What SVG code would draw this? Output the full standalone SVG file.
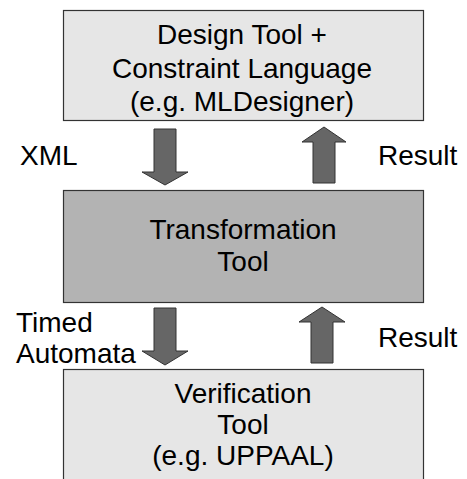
<svg xmlns="http://www.w3.org/2000/svg" width="467" height="479" viewBox="0 0 467 479">
<style>
.box{stroke:#333;stroke-width:1.2}
.light{fill:#e6e6e6}
.mid{fill:#b3b3b3}
.arr{fill:#666;stroke:#333;stroke-width:1}
text{font-family:"Liberation Sans",Arial,sans-serif;font-size:28px;fill:#000}
.c{text-anchor:middle}
</style>
<rect width="467" height="479" fill="#fff"/>
<g id="design-tool">
<rect class="box light" x="63.5" y="10.5" width="360" height="110"/>
<text class="c" x="242" y="44">Design Tool +</text>
<text class="c" x="242" y="78">Constraint Language</text>
<text class="c" x="242" y="111">(e.g. MLDesigner)</text>
</g>
<g id="transformation-tool">
<rect class="box mid" x="63.5" y="190.5" width="360" height="112"/>
<text class="c" x="243" y="239">Transformation</text>
<text class="c" x="243" y="271">Tool</text>
</g>
<g id="verification-tool">
<rect class="box light" x="63.5" y="369.5" width="360" height="130"/>
<text class="c" x="243" y="403">Verification</text>
<text class="c" x="243" y="434">Tool</text>
<text class="c" x="243" y="465">(e.g. UPPAAL)</text>
</g>
<g id="connectors">
<polygon class="arr" points="154,129 176,129 176,172 188,172 165,185 142,172 154,172"/>
<polygon class="arr" points="313,183 335,183 335,142 346,142 324,127 302,142 313,142"/>
<polygon class="arr" points="154,308 176,308 176,351 188,351 165,365 142,351 154,351"/>
<polygon class="arr" points="311,363 333,363 333,322 345,322 322,307 299,322 311,322"/>
<text x="20" y="165">XML</text>
<text x="378" y="165">Result</text>
<text x="16" y="332">Timed</text>
<text x="16" y="363">Automata</text>
<text x="378" y="347">Result</text>
</g>
</svg>
